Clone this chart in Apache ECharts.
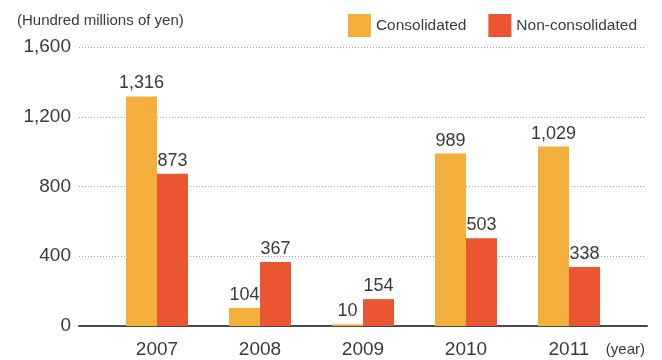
<!DOCTYPE html>
<html>
<head>
<meta charset="utf-8">
<script src="https://cdn.jsdelivr.net/npm/echarts@6/dist/echarts.min.js"></script>
<style>
  html, body { margin: 0; padding: 0; background: #fff; }
  #chart { width: 662px; height: 360px; }
</style>
</head>
<body>
<div id="chart"></div>
<script>
// Fiscal years and amounts (hundred millions of yen)
const years = [2007, 2008, 2009, 2010, 2011];
const consolidated = [1316, 104, 10, 989, 1029];
const nonConsolidated = [873, 367, 154, 503, 338];
const yTicks = [0, 400, 800, 1200, 1600];

const FONT = "'Liberation Sans', Arial, Helvetica, sans-serif";
const TEXT = '#3a3a3a';

const chart = echarts.init(document.getElementById('chart'), null, { renderer: 'canvas' });

const pair = (arr) => arr.map((v, i) => [years[i], v]);
const fmt = (v) => v.toLocaleString('en-US');

const barLabel = {
  show: true, position: 'top', distance: 4,
  fontFamily: FONT, fontSize: 18, color: TEXT,
  formatter: (p) => fmt(p.value[1])
};

chart.setOption({
  animation: false,
  backgroundColor: '#fff',
  title: {
    text: '(Hundred millions of yen)',
    left: 12, top: 8,
    textStyle: { fontFamily: FONT, fontSize: 15, fontWeight: 'normal', color: TEXT }
  },
  legend: {
    right: 20, top: 9,
    icon: 'rect',
    itemWidth: 23, itemHeight: 23,
    itemGap: 22,
    textStyle: { fontFamily: FONT, fontSize: 15.5, color: TEXT },
    data: ['Consolidated', 'Non-consolidated']
  },
  grid: [
    { left: 79, right: 17, top: 47, bottom: 34 },
    { left: 79, right: 15, top: 47, bottom: 34 }
  ],
  xAxis: [
    {
      type: 'value', gridIndex: 0,
      min: 2006.243, max: 2011.738,
      axisLine: { show: false },
      axisTick: { show: false },
      splitLine: { show: false },
      axisLabel: {
        customValues: years,
        margin: 14,
        fontFamily: FONT, fontSize: 19, color: TEXT,
        formatter: (v) => String(v)
      }
    },
    {
      type: 'value', gridIndex: 1, min: 0, max: 1,
      axisLine: { show: true, lineStyle: { color: '#4a4a4a', width: 2 } },
      axisTick: { show: false },
      axisLabel: { show: false },
      splitLine: { show: false }
    }
  ],
  yAxis: [
    {
      type: 'value', gridIndex: 0,
      min: yTicks[0], max: yTicks[yTicks.length - 1], interval: 400,
      axisLine: { show: false },
      axisTick: { show: false },
      axisLabel: {
        margin: 8,
        fontFamily: FONT, fontSize: 19, color: TEXT,
        formatter: fmt
      },
      splitLine: {
        show: true,
        showMinLine: false,
        lineStyle: { color: '#a0a0a0', type: [1, 2], width: 1 }
      }
    },
    {
      type: 'value', gridIndex: 1, min: 0, max: 1, show: false
    }
  ],
  graphic: [
    {
      type: 'text', right: 17, top: 342,
      style: { text: '(year)', font: "15px " + FONT, fill: TEXT }
    }
  ],
  series: [
    {
      name: 'Consolidated', type: 'bar',
      xAxisIndex: 0, yAxisIndex: 0,
      barWidth: 31, barGap: '0%',
      itemStyle: { color: '#F4AE3B' },
      label: barLabel,
      data: pair(consolidated)
    },
    {
      name: 'Non-consolidated', type: 'bar',
      xAxisIndex: 0, yAxisIndex: 0,
      barWidth: 31, barGap: '0%',
      itemStyle: { color: '#E95631' },
      label: barLabel,
      data: pair(nonConsolidated)
    }
  ]
});
</script>
</body>
</html>
